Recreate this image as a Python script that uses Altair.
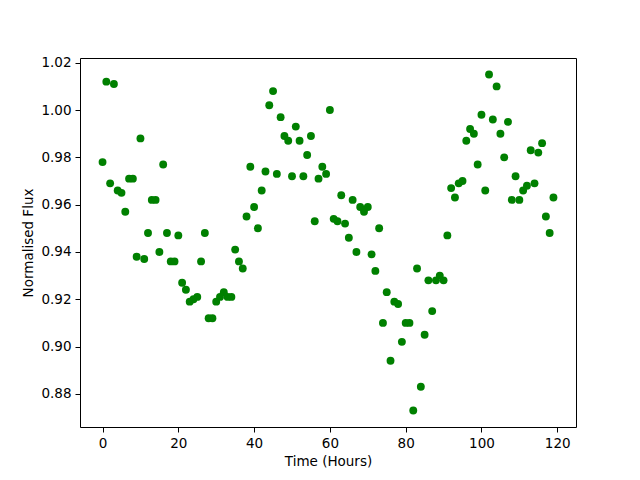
import altair as alt
import pandas as pd

hours = list(range(120))
flux = [
    0.978, 1.012, 0.969, 1.011, 0.966, 0.965, 0.957, 0.971, 0.971, 0.938,
    0.988, 0.937, 0.948, 0.962, 0.962, 0.940, 0.977, 0.948, 0.936, 0.936,
    0.947, 0.927, 0.924, 0.919, 0.920, 0.921, 0.936, 0.948, 0.912, 0.912,
    0.919, 0.921, 0.923, 0.921, 0.921, 0.941, 0.936, 0.933, 0.955, 0.976,
    0.959, 0.950, 0.966, 0.974, 1.002, 1.008, 0.973, 0.997, 0.989, 0.987,
    0.972, 0.993, 0.987, 0.972, 0.981, 0.989, 0.953, 0.971, 0.976, 0.973,
    1.000, 0.954, 0.953, 0.964, 0.952, 0.946, 0.962, 0.940, 0.959, 0.957,
    0.959, 0.939, 0.932, 0.950, 0.910, 0.923, 0.894, 0.919, 0.918, 0.902,
    0.910, 0.910, 0.873, 0.933, 0.883, 0.905, 0.928, 0.915, 0.928, 0.930,
    0.928, 0.947, 0.967, 0.963, 0.969, 0.970, 0.987, 0.992, 0.990, 0.977,
    0.998, 0.966, 1.015, 0.996, 1.010, 0.990, 0.980, 0.995, 0.962, 0.972,
    0.962, 0.966, 0.968, 0.983, 0.969, 0.982, 0.986, 0.955, 0.948, 0.963,
]
x_ticks = [0, 20, 40, 60, 80, 100, 120]
y_ticks = [0.88, 0.90, 0.92, 0.94, 0.96, 0.98, 1.00, 1.02]

df = pd.DataFrame({"hour": hours, "flux": flux})

font = "DejaVu Sans"
axis_style = dict(
    grid=False, domain=False, tickColor="black", tickSize=5, tickWidth=1,
    labelFont=font, labelFontSize=13.5, labelColor="black", labelPadding=4,
    titleFont=font, titleFontSize=13.5, titleFontWeight="normal", titleColor="black",
    titlePadding=5,
)
chart = alt.Chart(df).mark_circle(size=62, color="#008000", opacity=1).encode(
    x=alt.X("hour:Q", title="Time (Hours)",
            scale=alt.Scale(domain=[-5.95, 124.95], nice=False, zero=False),
            axis=alt.Axis(values=x_ticks, format="d", **axis_style)),
    y=alt.Y("flux:Q", title="Normalised Flux",
            scale=alt.Scale(domain=[0.866, 1.022], nice=False, zero=False),
            axis=alt.Axis(values=y_ticks, format=".2f", **axis_style)),
).properties(
    width=496, height=369,
    autosize=alt.AutoSizeParams(type="none"),
    padding={"left": 72, "top": 50, "right": 56, "bottom": 45},
).configure_view(
    stroke="black", strokeWidth=1
)

chart.save("out.html", embed_options={"renderer": "svg", "actions": False})
